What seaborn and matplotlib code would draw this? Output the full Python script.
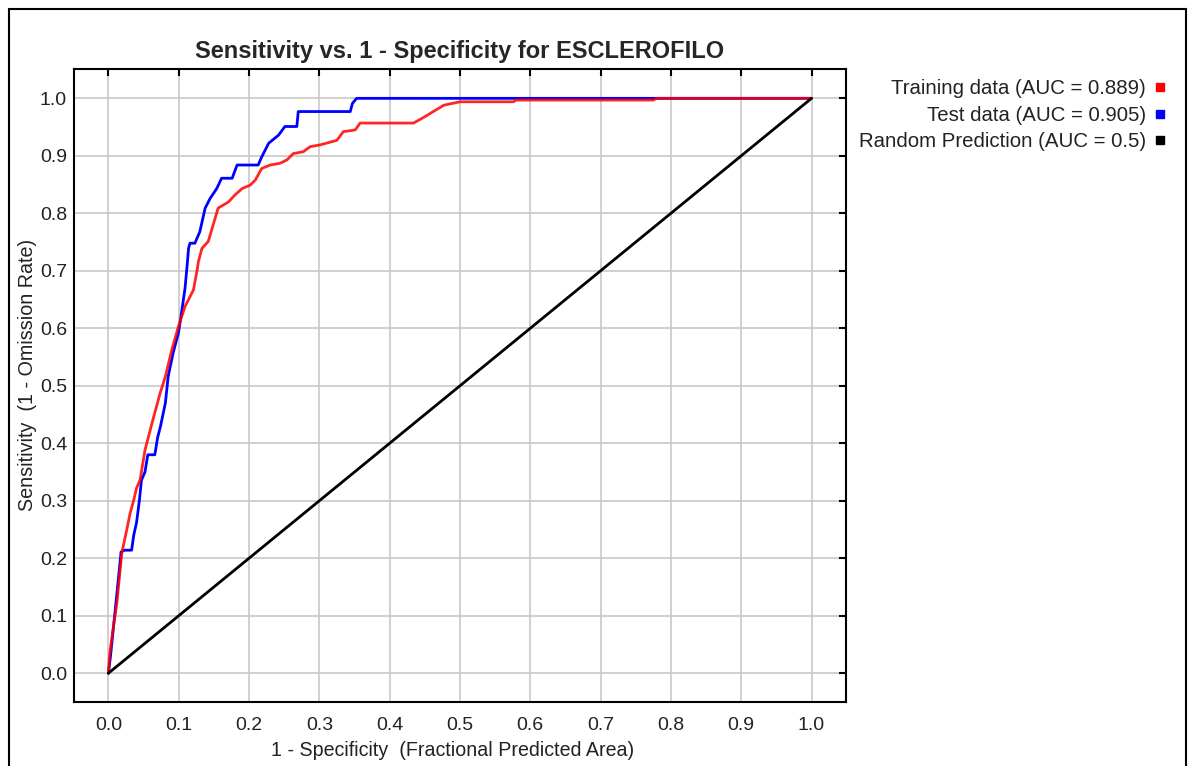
import pandas as pd
import matplotlib.pyplot as plt
import seaborn as sns
from matplotlib.lines import Line2D
from matplotlib.patches import Rectangle

# =======================================
#     ROC curve - ESCLEROFILO (Maxent)
# =======================================

# data (fractional predicted area, sensitivity)
train_fpa = [0.000, 0.002, 0.007, 0.012, 0.019, 0.026, 0.031, 0.036, 0.040, 0.045,
             0.052, 0.062, 0.0735, 0.081, 0.090, 0.0996, 0.109, 0.121, 0.126, 0.128,
             0.133, 0.142, 0.149, 0.156, 0.171, 0.180, 0.190, 0.2016, 0.209, 0.218,
             0.230, 0.244, 0.254, 0.263, 0.277, 0.287, 0.301, 0.325, 0.334, 0.351,
             0.358, 0.434, 0.450, 0.462, 0.477, 0.500, 0.576, 0.580, 0.775, 0.780, 1.000]
train_sens = [0.000, 0.035, 0.080, 0.122, 0.209, 0.249, 0.279, 0.301, 0.322, 0.336,
              0.388, 0.435, 0.487, 0.516, 0.562, 0.603, 0.638, 0.667, 0.700, 0.716,
              0.739, 0.751, 0.780, 0.809, 0.820, 0.832, 0.843, 0.849, 0.858, 0.878,
              0.884, 0.887, 0.893, 0.904, 0.907, 0.916, 0.919, 0.927, 0.942, 0.945,
              0.957, 0.957, 0.968, 0.977, 0.988, 0.994, 0.994, 0.997, 0.997, 1.000, 1.000]

test_fpa = [0.000, 0.003, 0.008, 0.013, 0.018, 0.023, 0.033, 0.036, 0.040, 0.044,
            0.047, 0.052, 0.056, 0.066, 0.070, 0.074, 0.081, 0.085, 0.092, 0.0996,
            0.104, 0.109, 0.112, 0.114, 0.116, 0.123, 0.130, 0.1376, 0.1447, 0.154,
            0.161, 0.176, 0.183, 0.213, 0.218, 0.228, 0.242, 0.251, 0.268, 0.270,
            0.344, 0.347, 0.353, 1.000]
test_sens = [0.000, 0.030, 0.090, 0.150, 0.211, 0.214, 0.214, 0.240, 0.262, 0.300,
             0.336, 0.350, 0.380, 0.380, 0.410, 0.429, 0.470, 0.516, 0.557, 0.592,
             0.627, 0.670, 0.710, 0.739, 0.748, 0.748, 0.768, 0.809, 0.826, 0.843,
             0.861, 0.861, 0.884, 0.884, 0.898, 0.922, 0.936, 0.951, 0.951, 0.977,
             0.977, 0.991, 1.000, 1.000]

random_fpa = [0.0, 1.0]
random_sens = [0.0, 1.0]

series_labels = ['Training data (AUC = 0.889)',
                 'Test data (AUC = 0.905)',
                 'Random Prediction (AUC = 0.5)']
series_colors = ['#ff0000', '#0000ff', '#000000']
tick_vals = [0.0, 0.1, 0.2, 0.3, 0.4, 0.5, 0.6, 0.7, 0.8, 0.9, 1.0]

sns.set_style('white')
plt.rcParams['font.family'] = ['Liberation Sans', 'DejaVu Sans']

df_train = pd.DataFrame({'fpa': train_fpa, 'sens': train_sens})
df_test = pd.DataFrame({'fpa': test_fpa, 'sens': test_sens})
df_rand = pd.DataFrame({'fpa': random_fpa, 'sens': random_sens})

fig = plt.figure(figsize=(11.91, 7.66), dpi=100)
ax = fig.add_axes([0.0621, 0.0836, 0.6482, 0.8263])

sns.lineplot(data=df_test, x='fpa', y='sens', ax=ax, color=series_colors[1],
             lw=2, estimator=None, sort=False)
sns.lineplot(data=df_train, x='fpa', y='sens', ax=ax, color=series_colors[0],
             lw=2, estimator=None, sort=False, alpha=0.85)
sns.lineplot(data=df_rand, x='fpa', y='sens', ax=ax, color=series_colors[2],
             lw=2, estimator=None, sort=False)

ax.set_xlim(-0.049, 1.049)
ax.set_ylim(-0.05, 1.051)
ax.set_xticks(tick_vals)
ax.set_yticks(tick_vals)
ax.set_xticklabels([f'{v:.1f}' for v in tick_vals])
ax.set_yticklabels([f'{v:.1f}' for v in tick_vals])

ax.grid(True, color='#c8c8c8', lw=1.2)
ax.set_axisbelow(True)
for s in ax.spines.values():
    s.set_linewidth(1.5)
    s.set_color('black')

ax.tick_params(direction='in', length=5, width=1.5, top=True, right=True,
               labelsize=14, colors='black', labelcolor='#222222')
ax.tick_params(axis='x', pad=11)
ax.tick_params(axis='y', pad=5)

ax.set_title('Sensitivity vs. 1 - Specificity for ESCLEROFILO',
             fontsize=17, fontweight='bold', pad=8)
ax.set_xlabel('1 - Specificity  (Fractional Predicted Area)', fontsize=14.1,
              color='#222222', labelpad=5)
ax.set_ylabel('Sensitivity  (1 - Omission Rate)', fontsize=14.2,
              color='#222222', labelpad=2)
ax.xaxis.label.set_x(0.49)
ax.yaxis.label.set_y(0.517)

handles = [Line2D([], [], marker='s', ls='none', color=c, markersize=6) for c in series_colors]
ax.legend(handles, series_labels, markerfirst=False, frameon=False,
          loc='upper right', bbox_to_anchor=(0.988, 0.91),
          bbox_transform=fig.transFigure, fontsize=14.7, borderpad=0,
          handlelength=0.6, handletextpad=0.4, labelspacing=0.37,
          labelcolor='#222222')

# outer frame
fig.add_artist(Rectangle((9 / 1191, -0.05), (1186 - 9) / 1191, 0.9883 + 0.05,
                         transform=fig.transFigure, fill=False, ec='black', lw=1.5))

fig.savefig('out.png', dpi=100)
